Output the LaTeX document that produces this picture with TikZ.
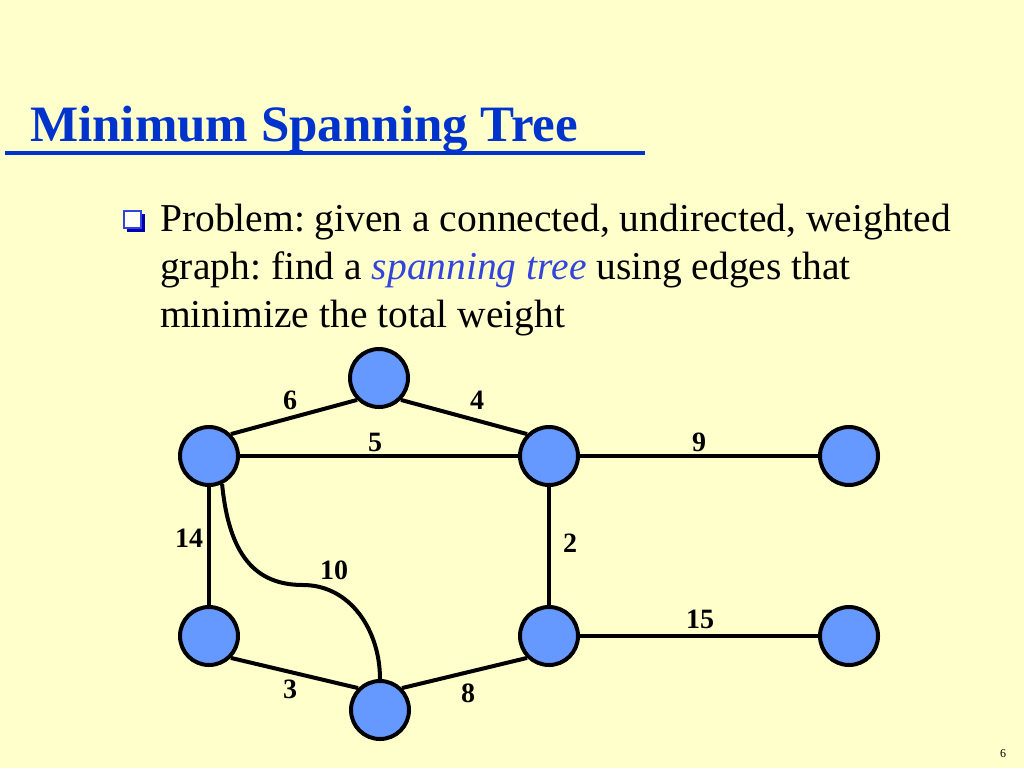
\documentclass[tikz,border=0pt]{standalone}
\usepackage{xcolor}
\usepackage{fontspec}
\setmainfont{Liberation Serif}
\definecolor{slidebg}{HTML}{FFFFCC}
\definecolor{titleblue}{HTML}{0033CC}
\definecolor{nodeblue}{HTML}{6699FF}
\definecolor{emblue}{HTML}{3344DD}
\frenchspacing
\begin{document}
\begin{tikzpicture}
    [x=1pt,y=-1pt,
    vertex/.style={circle,draw=black,line width=4pt,fill=nodeblue,minimum size=58pt,inner sep=0pt},
    edge/.style={black,line width=4pt},
    weight/.style={font=\fontsize{28}{30}\selectfont\bfseries,inner sep=0pt},
    bodytext/.style={anchor=base west,inner sep=0pt,font=\fontsize{39.5}{48}\selectfont}]

%background of the slide
\fill[slidebg] (0,0) rectangle (1024,768);

%title and underline
\node[anchor=base west,text=titleblue,inner sep=0pt,font=\fontsize{51}{56}\selectfont\bfseries] (title) at (30,141) {Minimum Spanning Tree};
\draw[titleblue,line width=4.5pt] (5,153) -- (645,153);

%bullet and text
\fill[blue!70!black] (127,214) rectangle (145,232);
\filldraw[fill=white!85!slidebg,draw=emblue,line width=1.2pt] (124,211) rectangle (141,228);
\node[bodytext] (line1) at (160,231) {Problem: given a connected, undirected, weighted};
\node[bodytext] (line2) at (160,279) {graph: find a \textcolor{emblue}{\itshape spanning tree} using edges that};
\node[bodytext] (line3) at (160,327) {minimize the total weight};

%vertices
\node[vertex] (a) at (379,378) {};
\node[vertex] (b) at (209,456) {};
\node[vertex] (c) at (549,456) {};
\node[vertex] (d) at (849,456) {};
\node[vertex] (e) at (209,636) {};
\node[vertex] (f) at (380,710) {};
\node[vertex] (g) at (549,636) {};
\node[vertex] (h) at (849,636) {};
\coordinate (bend) at (303,585);

%edges
\draw[edge] (b.45) -- (a.-135);
\draw[edge] (a.-45) -- (c.135);
\draw[edge] (b) -- (c);
\draw[edge] (c) -- (d);
\draw[edge] (b) -- (e);
\draw[edge] (c) -- (g);
\draw[edge] (e.-45) -- (f.135);
\draw[edge] (f.45) -- (g.-135);
\draw[edge] (g) -- (h);
\draw[edge] (b.-65) .. controls (229,555) and (255,585) .. (bend) .. controls (350,585) and (380,630) .. (f.north);

%weights
\node[weight] (w6) at (290,400) {6};
\node[weight] (w4) at (477,400) {4};
\node[weight] (w5) at (375,442) {5};
\node[weight] (w9) at (699,442) {9};
\node[weight] (w14) at (189,538) {14};
\node[weight] (w10) at (334,570) {10};
\node[weight] (w2) at (570,543) {2};
\node[weight] (w15) at (700,619) {15};
\node[weight] (w3) at (290,689) {3};
\node[weight] (w8) at (468,693) {8};

%page number
\node[font=\fontsize{12}{14}\selectfont,inner sep=0pt] (page) at (1003,754) {6};

\end{tikzpicture}
\end{document}
